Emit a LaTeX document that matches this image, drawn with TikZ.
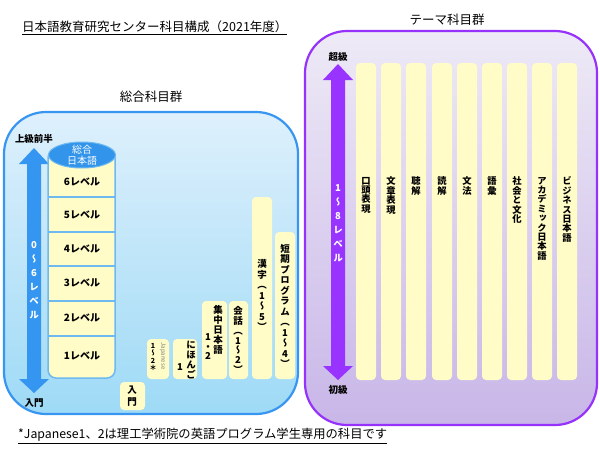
\documentclass[tikz,border=0pt]{standalone}
\usepackage{fontspec}
\setmainfont{Noto Sans CJK JP}
\newfontfamily\tatefont[RawFeature=+vert]{Noto Sans CJK JP}
\usetikzlibrary{positioning,shapes.geometric,fit}
\definecolor{sogoedge}{RGB}{56,150,240}
\definecolor{sogotop}{RGB}{222,240,252}
\definecolor{sogobottom}{RGB}{158,218,246}
\definecolor{themeedge}{RGB}{150,50,250}
\definecolor{themetop}{RGB}{238,234,246}
\definecolor{themebottom}{RGB}{200,182,232}
\definecolor{cream}{RGB}{255,252,200}
\definecolor{sogoarrow}{RGB}{52,150,240}
\definecolor{themearrow}{RGB}{153,51,255}
\definecolor{stackedge}{RGB}{110,185,240}
\definecolor{sogoblue}{RGB}{50,148,235}

% vertical (tategaki) stack of characters
\makeatletter
\def\tate@go{\@tfor\tate@c:=}
\newcommand\tate[2][10.5pt]{\vbox{\tatefont\baselineskip=#1\relax\lineskiplimit=-\maxdimen
  \expandafter\tate@go#2\do{\hbox to 1em{\hss\tate@c\hss}}}}
\makeatother

\begin{document}
\begin{tikzpicture}[x=1pt,y=-1pt,every node/.style={inner sep=0pt},
  panel/.style={draw,line width=2.2pt,rounded corners=42pt},
  kamoku/.style={fill=cream,rounded corners=4pt},
  kbold/.style={font=\bfseries\fontsize{9.5}{10}\selectfont},
  yaji/.style={font=\bfseries\fontsize{9.5}{10}\selectfont},
  themelbl/.style={font=\bfseries\fontsize{9.3}{9}\selectfont},
  mei/.style={font=\fontsize{12.5}{13}\selectfont}]
\useasboundingbox (0,0) rectangle (600,450);

\node[mei,anchor=west] (title) at (22,28) {\underline{日本語教育研究センター科目構成（2021年度）}};
\node[anchor=west,font=\fontsize{12.3}{13}\selectfont] (chu) at (18,436) {\underline{*Japanese1、2は理工学術院の英語プログラム学生専用の科目です}};

% panels
\node[panel,draw=sogoedge,top color=sogotop,bottom color=sogobottom,fit={(4,112) (298,414)}] (sogo) {};
\node[panel,draw=themeedge,top color=themetop,bottom color=themebottom,fit={(305,31) (597,425)}] (theme) {};
\node[mei] (sogomei) at (151,97) {総合科目群};
\node[mei] (thememei) at (447,20) {テーマ科目群};

% level arrows
\foreach \c/\x/\ya/\yb in {sogoarrow/34/148/393,themearrow/338/64/380}
  \fill[\c] (\x,\ya) -- (\x+15,\ya+16) -- (\x+7,\ya+16) -- (\x+7,\yb-14) -- (\x+15,\yb-14) -- (\x,\yb)
    -- (\x-15,\yb-14) -- (\x-7,\yb-14) -- (\x-7,\ya+16) -- (\x-15,\ya+16) -- cycle;
\node[yaji] (jokyu) at (34,139) {上級前半};
\node[yaji] (nyumonlbl) at (34,403) {入門};
\node[yaji] (chokyu) at (338,57) {超級};
\node[yaji] (shokyu) at (338,390) {初級};
\node[yaji,white] (sogolv) at (34,280) {\tate[14pt]{0～6レベル}};
\node[yaji,white] (themelv) at (338,223) {\tate[14pt]{1～8レベル}};

% sogo nihongo stack
\node[fill=cream,draw=stackedge,line width=1.5pt,rounded corners=8pt,fit={(48,150) (115,378)}] (stack) {};
\foreach \y in {197,232,266,301,336}
  \draw[stackedge,line width=1.5pt] (48,\y) -- (115,\y);
\foreach \n/\y in {6/182,5/215,4/249,3/283,2/318,1/356}
  \node[font=\bfseries\fontsize{10}{10}\selectfont] (lv\n) at (82,\y) {\n レベル};
\node[ellipse,fill=sogoblue,draw=stackedge,line width=1pt,minimum width=67pt,minimum height=26pt] (sogonihongo) at (82,155) {};
\node[white,align=center,font=\fontsize{10}{11.5}\selectfont] (sogonihongotx) at (sogonihongo) {総合\\日本語};

% other sogo kamoku
\foreach \nm/\xa/\ya/\xb/\yb in {nyumon/120/382/145/410,japanese/147/339/169/379,nihongo/173/339/197/379,
    shuchu/202/301/227/379,kaiwa/229/301/248/379,kanji/252/197/272/379,tanki/275/232/295/379}
  \node[kamoku,fit={(\xa,\ya) (\xb,\yb)}] (\nm) {};
\node[kbold] (nyumontx) at (132,396) {\tate[12pt]{入門}};
\node[gray,font=\fontsize{6}{6}\selectfont,rotate=-90] (japanesetx) at (163,356) {Japanese};
\node[font=\bfseries\fontsize{7}{7}\selectfont] (japanesenum) at (153,357) {\tate[7.5pt]{1～2＊}};
\node[kbold] (nihongotx) at (191,360) {\tate[10pt]{にほんご}};
\node[kbold] (nihongonum) at (180,367) {1};
\node[kbold] (shuchutx) at (218,330) {\tate[10pt]{集中日本語}};
\node[kbold] (shuchunum) at (208,347) {\tate[9.5pt]{1・2}};
\node[kbold] (kaiwatx) at (238,340) {\tate[9.8pt]{会話（1～2）}};
\node[kbold] (kanjitx) at (262,295) {\tate{漢字（1～5）}};
\node[kbold] (tankitx) at (285,306) {\tate{短期プログラム（1～4）}};

% theme kamoku
\foreach \i/\x in {1/356,2/381,3/406,4/432,5/457,6/482,7/507,8/532,9/557}
  \node[kamoku,fit={(\x,63) (\x+20,380)}] (th\i) {};
\foreach \i/\t in {1/口頭表現,2/文章表現,3/聴解,4/読解,5/文法,6/語彙,7/社会と文化,8/アカデミック日本語,9/ビジネス日本語}
  \node[themelbl,below=114pt of th\i.north] (thl\i) {\tate[9.4pt]{\t}};
\end{tikzpicture}
\end{document}
